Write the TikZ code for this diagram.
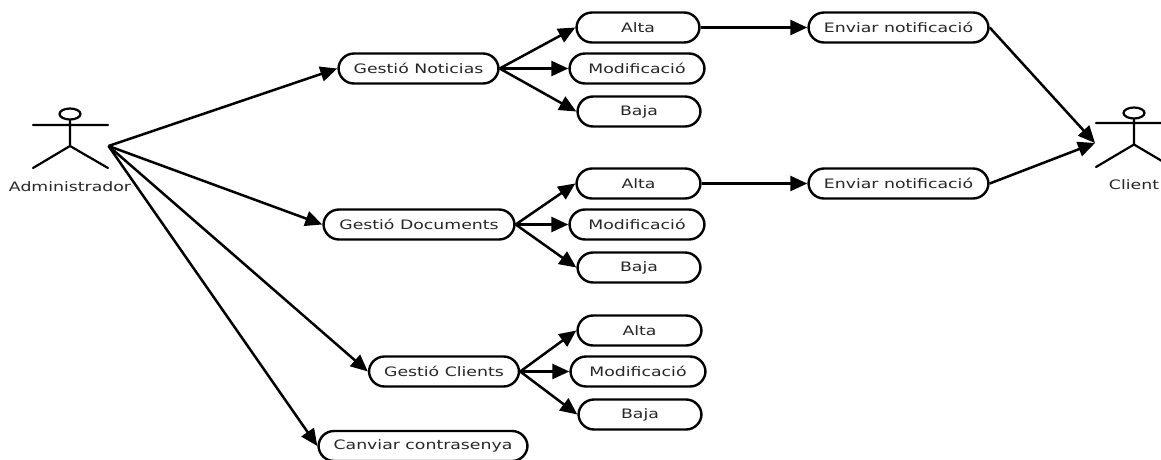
\documentclass[tikz,border=0pt]{standalone}
\usepackage{fontspec}
\usepackage{graphicx}
\setmainfont{DejaVu Sans}
\usetikzlibrary{arrows.meta}
\newcommand{\wide}[1]{\scalebox{1.33}[1]{#1}}
\tikzset{
  usecase/.style={draw=black,line width=2.4pt,fill=white,rounded corners=15.5pt,minimum height=30pt,minimum width=#1,inner sep=0pt,text=black!85,font=\fontsize{13}{15}\selectfont},
  actorlabel/.style={inner sep=0pt,text=black!85,font=\fontsize{13}{15}\selectfont},
  link/.style={line width=2.5pt,-{Triangle[length=17pt,width=15pt]}},
  actorline/.style={line width=2.2pt,line cap=round}
}
\begin{document}
\begin{tikzpicture}[x=1pt,y=-1pt]
\useasboundingbox (0,0) rectangle (1161,460);
% use cases
\node[usecase=160pt] (gn) at (418.5,68.5) {\wide{Gestió Noticias}};
\node[usecase=123pt] (a1) at (638,27.5) {\wide{Alta}};
\node[usecase=135pt] (m1) at (637,68.5) {\wide{Modificació}};
\node[usecase=123pt] (b1) at (639,111.5) {\wide{Baja}};
\node[usecase=180pt] (e1) at (898.5,27.5) {\wide{Enviar notificació}};
\node[usecase=191pt] (gd) at (419,224.5) {\wide{Gestió Documents}};
\node[usecase=124pt] (a2) at (638.5,183.5) {\wide{Alta}};
\node[usecase=135pt] (m2) at (637,224.5) {\wide{Modificació}};
\node[usecase=123pt] (b2) at (639,267.5) {\wide{Baja}};
\node[usecase=180pt] (e2) at (898.5,183.5) {\wide{Enviar notificació}};
\node[usecase=150pt] (gc) at (444,371.5) {\wide{Gestió Clients}};
\node[usecase=124pt] (a3) at (639.5,330.5) {\wide{Alta}};
\node[usecase=135pt] (m3) at (638,371.5) {\wide{Modificació}};
\node[usecase=123pt] (b3) at (640,414.5) {\wide{Baja}};
\node[usecase=209pt] (cc) at (423,446) {\wide{Canviar contrasenya}};
% actors
\coordinate (adm) at (108.5,146);
\coordinate (cli) at (1095,143);
\draw[actorline] (70,114) ellipse (10.5pt and 5.5pt);
\draw[actorline] (70,120) -- (70,146) (33,125) -- (108,125) (33,168) -- (70,146) -- (108,168);
\node[actorlabel] (admlabel) at (70,187) {\wide{Administrador}};
\draw[actorline] (1134,113) ellipse (10.5pt and 5.5pt);
\draw[actorline] (1134,119) -- (1134,144.5) (1096,123) -- (1172,123) (1096,167) -- (1134,144.5) -- (1172,167);
\node[actorlabel] (clilabel) at (1134,185) {\wide{Client}};
% connectors
\draw[link] (adm) -- (gn.west);
\draw[link] (adm) -- (gd.west);
\draw[link] (adm) -- (gc.west);
\draw[link] (adm) -- (cc.west);
\foreach \g/\a/\m/\b in {gn/a1/m1/b1,gd/a2/m2/b2,gc/a3/m3/b3}{
  \draw[link] (\g.east) -- (\a.west);
  \draw[link] (\g.east) -- (\m.west);
  \draw[link] (\g.east) -- (\b.west);
}
\draw[link] (a1.east) -- (e1.west);
\draw[link] (a2.east) -- (e2.west);
\draw[link] (e1.east) -- (cli);
\draw[link] (e2.east) -- (cli);
\end{tikzpicture}
\end{document}
